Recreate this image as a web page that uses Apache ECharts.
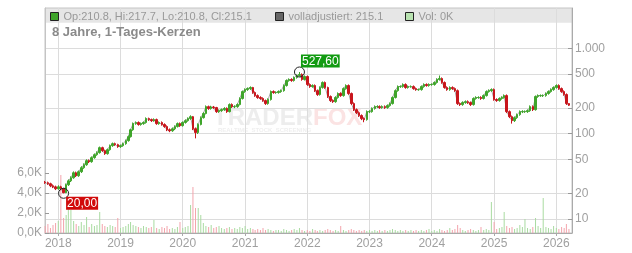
<!DOCTYPE html>
<html><head><meta charset="utf-8">
<script src="https://cdn.jsdelivr.net/npm/echarts@6/dist/echarts.min.js"></script>
<style>html,body{margin:0;padding:0;background:#fff}#c{width:632px;height:253px}</style>
</head><body><div id="c"></div>
<script>
// semi-monthly candles (1st / 16th of each month)
const firstOpen = 27.0;
const closes = [
26.6,25.9,24.5,23.8,22.6,23.8,22.6,20.3,25.2,28.0,
30.4,34.8,32.1,35.8,39.9,43.2,48.2,46.9,52.3,56.7,
59.9,68.5,63.2,58.3,64.9,72.3,76.3,74.3,70.4,72.3,
76.3,82.8,92.2,111,131,135,128,131,135,150,
146,142,146,131,135,128,121,111,108,114,
121,131,124,135,142,150,158,114,103,128,
154,172,207,197,205,202,181,186,191,197,
181,219,207,207,219,258,311,328,337,347,
303,279,265,258,244,225,251,311,303,303,
311,319,366,419,431,419,454,480,493,431,
467,376,356,366,319,287,347,397,347,272,
244,237,265,295,279,337,366,295,225,191,
176,163,150,146,181,181,197,207,207,202,
207,202,213,225,265,319,356,356,376,347,
356,356,337,328,328,356,376,366,376,376,
397,431,442,397,347,328,347,337,319,225,
219,231,237,231,219,258,265,265,258,279,
311,319,328,251,244,258,265,279,181,158,
142,154,167,181,181,181,186,207,191,272,
279,279,279,295,311,328,347,366,337,311,
287,225,215.1];
const lows = [
25.8,25.1,23.6,23.0,21.8,22.0,21.7,20.0,20.1,24.4,
27.1,29.6,31.0,31.2,34.6,38.7,42.0,45.2,45.6,50.8,
55.0,58.3,61.2,56.4,56.7,63.1,70.1,71.9,68.2,68.1,
70.2,74.1,80.5,90.0,108,127,124,124,127,131,
141,137,138,127,127,124,117,107,104,105,
110,118,120,121,131,138,145,110,88,99,
125,150,168,190,191,195,175,175,180,185,
175,177,200,199,201,214,251,301,317,325,
293,270,256,249,236,217,218,244,293,293,
294,301,310,356,406,405,407,441,466,417,
419,363,344,345,308,277,279,337,335,262,
235,229,230,257,270,271,327,285,217,184,
170,157,144,136,142,174,176,191,200,195,
196,195,196,207,219,258,310,344,345,336,
337,345,327,318,318,319,345,355,355,364,
365,386,418,384,336,318,318,326,309,217,
211,212,224,223,211,213,250,256,249,251,
272,302,309,243,236,237,250,257,174,152,
131,137,149,162,174,175,175,180,184,186,
263,270,269,271,286,302,318,336,326,301,
278,217,210.8];
const highs = [
27.9,27.4,26.6,25.4,24.6,24.8,24.5,23.2,26.0,29.1,
31.6,36.1,35.9,37.0,41.5,44.8,50.0,49.8,54.1,58.6,
62.0,70.6,70.3,64.9,66.8,74.5,78.6,78.4,76.1,74.6,
78.5,85.2,95.0,114,135,139,139,135,139,155,
154,150,151,150,139,139,132,125,115,118,
125,135,135,139,147,155,164,161,118,132,
159,178,214,213,212,211,206,192,197,204,
203,226,226,215,226,266,320,339,348,358,
353,312,288,274,266,251,259,320,321,313,
321,329,377,432,444,445,468,495,527.6,508,
481,480,388,378,377,329,358,409,408,355,
280,252,274,304,305,348,378,377,303,232,
197,182,168,155,187,188,203,214,215,214,
214,214,220,232,273,329,367,368,388,388,
367,367,367,347,338,367,388,388,388,388,
409,445,480,455,409,358,358,358,347,329,
232,239,245,245,238,266,274,274,274,288,
321,330,339,338,259,266,274,288,288,187,
163,159,172,187,188,187,192,214,214,280,
288,288,288,304,321,339,358,378,378,347,
321,296,217.7];
const volumes = [
700,900,500,800,1000,1200,5800,1500,1800,3100,
2300,1200,900,700,1100,800,1600,600,900,700,
800,2100,900,700,600,800,700,600,1500,500,
600,700,900,1100,800,700,600,500,700,600,
500,600,1300,500,400,600,500,700,400,500,
400,600,1100,500,600,700,2800,4600,2500,2500,
1800,1000,700,600,800,500,600,700,500,400,
500,600,400,500,400,600,500,700,400,500,
400,300,400,300,500,300,400,300,200,300,
300,200,400,300,200,300,400,300,500,300,
200,300,200,400,300,200,300,200,300,400,
300,200,300,200,700,300,200,300,400,300,
200,300,200,300,200,300,200,300,200,300,
200,300,200,300,400,300,200,300,200,300,
200,300,200,300,200,300,200,300,400,200,
300,200,400,300,200,300,500,300,400,800,
500,300,200,300,400,300,200,300,600,300,
400,300,3100,1100,400,500,600,2100,700,500,
600,400,500,800,600,1400,500,400,600,1500,
700,500,3500,600,500,400,700,500,400,600,
500,900,400];
const yearTicks = ['2018-01-01','2019-01-01','2020-01-01','2021-01-01','2022-01-01','2023-01-01','2024-01-01','2025-01-01','2026-01-01'];
const priceTicks = [10,20,50,100,200,500,1000];
const volumeTicks = [0,2000,4000,6000];
const legendNames = ['Op:210.8, Hi:217.7, Lo:210.8, Cl:215.1','volladjustiert: 215.1','Vol: 0K'];

const ts = s => { const p=s.split('-'); return Date.UTC(+p[0],+p[1]-1,+p[2]); };
const dates = [];
(function(){ let y=2017,m=9,d=16;
  while(dates.length<closes.length){
    dates.push(y+'-'+String(m+1).padStart(2,'0')+'-'+String(d).padStart(2,'0'));
    if(d===16){d=1;m++;if(m>11){m=0;y++;}} else d=16;
  }})();

const UP='#3fa52b', DOWN='#c8161d', VUP='#a9dba1', VDOWN='#f3a4ac';
const candleData=[], volData=[], lineData=[];
for(let i=0;i<closes.length;i++){
  const o = i===0?firstOpen:closes[i-1];
  const t = ts(dates[i]);
  candleData.push([t,o,closes[i],lows[i],highs[i]]);
  lineData.push([t,closes[i]]);
  volData.push({value:[t,volumes[i]],itemStyle:{color:closes[i]>=o?VUP:VDOWN}});
}
const yearTs = yearTicks.map(ts);
const FONT='"Liberation Sans", Arial, sans-serif';
const LBL='#a0a0a0';
const chart = echarts.init(document.getElementById('c'),null,{renderer:'canvas'});
chart.setOption({
  animation:false,
  backgroundColor:'#fff',
  title:{text:'8 Jahre, 1-Tages-Kerzen',left:52,top:26,padding:0,
    textStyle:{fontSize:13,fontWeight:'bold',color:'#8a8a8a',fontFamily:FONT}},
  legend:[
    {left:50,top:11,padding:0,itemWidth:8,itemHeight:8,selectedMode:false,
     textStyle:{color:'#999',fontSize:11,fontFamily:FONT},
     data:[{name:legendNames[0],icon:'rect',itemStyle:{color:'#3fa52b',borderColor:'#222',borderWidth:1}}]},
    {left:275,top:11,padding:0,itemWidth:8,itemHeight:8,selectedMode:false,
     textStyle:{color:'#999',fontSize:11,fontFamily:FONT},
     data:[{name:legendNames[1],icon:'rect',itemStyle:{color:'#666',borderColor:'#222',borderWidth:1}}]},
    {left:405,top:11,padding:0,itemWidth:8,itemHeight:8,selectedMode:false,
     textStyle:{color:'#999',fontSize:11,fontFamily:FONT},
     data:[{name:legendNames[2],icon:'rect',itemStyle:{color:'#b8e2b0',borderColor:'#222',borderWidth:1}}]}
  ],
  graphic:[
    {type:'text',left:213,top:106,z:0,silent:true,style:{text:'TRADER',fill:'#ededed',font:'bold 24px "Liberation Sans", Arial'}},
    {type:'text',left:313,top:106,z:0,silent:true,style:{text:'FOX',fill:'#fbe3e3',font:'bold 24px "Liberation Sans", Arial'}},
    {type:'text',left:218,top:127,z:0,silent:true,style:{text:'REALTIME  STOCK  SCREENING',fill:'#efefef',font:'bold 6px "Liberation Sans", Arial'}}
  ],
  grid:[
    {left:45,right:60,top:8,bottom:20,show:true,borderColor:'#c4c4c4',borderWidth:1,backgroundColor:'transparent'},
    {left:45,right:60,top:8,height:14.7,show:true,z:-1,borderWidth:0,backgroundColor:'#e6e6e6'}
  ],
  xAxis:[{type:'value',gridIndex:0,min:ts('2017-10-15'),max:ts('2026-04-03'),
    axisLine:{show:true,lineStyle:{color:'#aaa'}},
    axisTick:{show:true,length:3,lineStyle:{color:'#aaa'},customValues:yearTs},
    axisLabel:{customValues:yearTs,color:LBL,fontSize:12,fontFamily:FONT,margin:5,
      formatter:v=>String(new Date(v).getUTCFullYear())},
    splitLine:{show:true,lineStyle:{color:'#dcdcdc',width:1}}
  }],
  yAxis:[
    {type:'log',gridIndex:0,position:'right',logBase:10,min:6.85,max:2965,
     axisLine:{show:true,lineStyle:{color:'#aaa'}},
     axisTick:{show:true,inside:true,length:4,lineStyle:{color:'#999'},customValues:priceTicks},
     axisLabel:{customValues:priceTicks,color:LBL,fontSize:12,fontFamily:FONT,margin:3,
       formatter:v=>Number(v).toLocaleString('de-DE')},
     splitLine:{show:true,lineStyle:{color:'#dcdcdc',width:1}}},
    {type:'value',gridIndex:0,position:'left',min:0,max:22500,
     axisLine:{show:true,lineStyle:{color:'#c4c4c4'}},
     axisTick:{show:true,inside:true,length:4,lineStyle:{color:'#999'},customValues:volumeTicks},
     axisLabel:{customValues:volumeTicks,color:LBL,fontSize:12,fontFamily:FONT,margin:3,
       formatter:v=>(v/1000).toFixed(1).replace('.',',')+'K'},
     splitLine:{show:false}}
  ],
  series:[
    {name:legendNames[2],type:'bar',xAxisIndex:0,yAxisIndex:1,barWidth:1,data:volData,z:1,
     itemStyle:{color:VUP}},
    {name:legendNames[1],type:'line',xAxisIndex:0,yAxisIndex:0,data:lineData,showSymbol:false,symbol:'none',
     lineStyle:{color:'#aaa',width:1},itemStyle:{color:'#666'},z:2},
    {name:legendNames[0],type:'candlestick',xAxisIndex:0,yAxisIndex:0,barWidth:2,data:candleData,z:3,
     itemStyle:{color:UP,color0:DOWN,borderColor:UP,borderColor0:DOWN,borderWidth:1},
     markPoint:{
       symbol:'circle',symbolSize:10,
       itemStyle:{color:'rgba(0,0,0,0)',borderColor:'#222',borderWidth:1},
       label:{show:true,color:'#fff',fontSize:12,fontFamily:FONT,lineHeight:12,padding:[1,1,0,1],
         formatter:p=>Number(p.value).toFixed(2).replace('.',',')},
       data:[
         {type:'max',valueDim:'highest',label:{position:[7,-12],backgroundColor:'#129b12'}},
         {type:'min',valueDim:'lowest',label:{position:[8,9],backgroundColor:'#d10a0a'}}
       ]}
    }
  ]
});
</script></body></html>
